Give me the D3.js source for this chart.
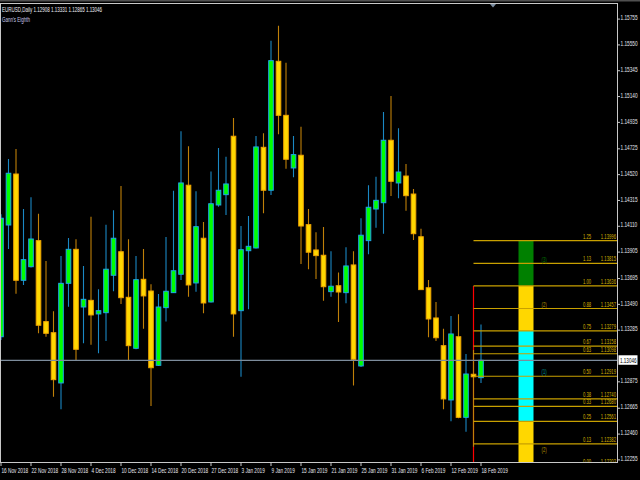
<!DOCTYPE html>
<html>
<head>
<meta charset="utf-8">
<script src="https://cdn.jsdelivr.net/npm/d3@7"></script>
<style>
html,body{margin:0;padding:0;background:#000;}
svg{display:block;}
</style>
</head>
<body>
<svg id="chart" width="640" height="480"></svg>
<script>
// ---------------- DATA ----------------
const symbolTitle = "EURUSD,Daily  1.12908 1.13331 1.12865 1.13046";
const indicatorName = "Gann's Eighth";

const dates = [
 "2018-11-16","2018-11-19","2018-11-20","2018-11-21","2018-11-22","2018-11-23","2018-11-26","2018-11-27","2018-11-28","2018-11-29",
 "2018-11-30","2018-12-03","2018-12-04","2018-12-05","2018-12-06","2018-12-07","2018-12-10","2018-12-11","2018-12-12","2018-12-13",
 "2018-12-14","2018-12-17","2018-12-18","2018-12-19","2018-12-20","2018-12-21","2018-12-24","2018-12-26","2018-12-27","2018-12-28",
 "2018-12-31","2019-01-02","2019-01-03","2019-01-04","2019-01-07","2019-01-08","2019-01-09","2019-01-10","2019-01-11","2019-01-14",
 "2019-01-15","2019-01-16","2019-01-17","2019-01-18","2019-01-21","2019-01-22","2019-01-23","2019-01-24","2019-01-25","2019-01-28",
 "2019-01-29","2019-01-30","2019-01-31","2019-02-01","2019-02-04","2019-02-05","2019-02-06","2019-02-07","2019-02-08","2019-02-11",
 "2019-02-12","2019-02-13","2019-02-14","2019-02-15","2019-02-18"
];
const open = [
 1.13233,1.14120,1.14525,1.13681,1.13789,1.13996,1.13353,1.13265,1.12866,1.13657,
 1.13927,1.13469,1.13522,1.13414,1.13424,1.13721,1.13908,1.13546,1.13141,1.13689,
 1.13596,1.13006,1.13464,1.13583,1.13729,1.14436,1.13660,1.14015,1.13509,1.14279,
 1.14361,1.14825,1.13440,1.13916,1.13938,1.14737,1.14396,1.15420,1.14991,1.14573,
 1.14674,1.14123,1.13922,1.13880,1.13591,1.13638,1.13583,1.13803,1.13001,1.13996,
 1.14247,1.14297,1.14793,1.14454,1.14509,1.14366,1.14027,1.13622,1.13382,1.13162,
 1.12731,1.13233,1.12593,1.12935,1.12908
];
const high = [
 1.14205,1.14644,1.14724,1.14247,1.14340,1.14210,1.13834,1.13435,1.13874,1.14017,
 1.14007,1.13795,1.14186,1.13610,1.14123,1.14237,1.14430,1.14007,1.13874,1.13930,
 1.13649,1.13572,1.14025,1.14393,1.14864,1.14745,1.14388,1.14144,1.14544,1.14732,
 1.14663,1.14970,1.14112,1.14192,1.14827,1.14848,1.15584,1.15703,1.15409,1.14827,
 1.14901,1.14247,1.14062,1.14104,1.13912,1.13742,1.13943,1.13912,1.14174,1.14436,
 1.14504,1.15018,1.15145,1.14888,1.14605,1.14406,1.14091,1.13684,1.13509,1.13297,
 1.13398,1.13411,1.13096,1.13128,1.13331
];
const low = [
 1.13207,1.13930,1.13575,1.13644,1.13783,1.13260,1.13233,1.12757,1.12657,1.13472,
 1.13043,1.13181,1.13170,1.13102,1.13199,1.13594,1.13493,1.13048,1.13133,1.13297,
 1.12683,1.13001,1.13353,1.13580,1.13684,1.13551,1.13591,1.13419,1.13505,1.14266,
 1.14200,1.13233,1.12916,1.13451,1.13934,1.14213,1.14359,1.14840,1.14567,1.14499,
 1.13811,1.13769,1.13692,1.13519,1.13551,1.13350,1.13499,1.12845,1.12993,1.13888,
 1.14099,1.14051,1.14351,1.14332,1.14234,1.14001,1.13604,1.13229,1.13199,1.12657,
 1.12562,1.12585,1.12479,1.12360,1.12865
];
const close = [
 1.14174,1.14531,1.13681,1.13845,1.14009,1.13324,1.13260,1.12892,1.13657,1.13927,
 1.13133,1.13530,1.13406,1.13440,1.13769,1.14015,1.13543,1.13162,1.13686,1.13557,
 1.12987,1.13469,1.13594,1.13757,1.14454,1.13644,1.14107,1.13501,1.14289,1.14396,
 1.14446,1.13414,1.13924,1.13951,1.14740,1.14396,1.15425,1.14991,1.14642,1.14679,
 1.14112,1.13904,1.13877,1.13630,1.13634,1.13588,1.13795,1.13054,1.14039,1.14261,
 1.14316,1.14793,1.14467,1.14541,1.14353,1.14051,1.13607,1.13374,1.13225,1.12739,
 1.13255,1.12593,1.12937,1.12915,1.13046
];
const currentPrice = 1.13046;

// visible price-scale labels (the one under the current-price box is hidden in the original)
const priceTicks = [1.15755,1.15550,1.15345,1.15140,1.14935,1.14725,1.14520,1.14315,1.14110,
 1.13905,1.13695,1.13490,1.13285,1.12875,1.12665,1.12460,1.12255];

// Gann's Eighths levels
const levelRatios = ["1.25","1.13","1.00","0.88","0.75","0.67","0.63","0.50","0.38","0.33","0.25","0.13","0.00"];
const levelPrices = [1.13996,1.13815,1.13636,1.13457,1.13279,1.13158,1.13098,1.12919,1.12740,1.12680,1.12561,1.12382,1.12203];

// colored zone band
const bandTop    = [1.13996,1.13636,1.13279,1.12561];
const bandBottom = [1.13636,1.13279,1.12561,1.12203];
const bandLabels = ["(3)","(2)","(1)","(2)"];
const bandLabelAt = [1.13815,1.13457,1.12919,1.12382];

// ---------------- DRAW ----------------
const svg = d3.select("#chart");
const FONT = "'Liberation Sans', Arial, sans-serif";
const SX = 0.62;

const plotL = 0.5, plotR = 617.5, plotT = 3.5, plotB = 462.5;

const parse = d3.timeParse("%Y-%m-%d");
const fmt = d3.timeFormat("%-d %b %Y");

const x = d3.scaleLinear().domain([0, dates.length - 1]).range([1, 481]);
const y = d3.scaleLinear().domain([1.12255, 1.15755]).range([459.9, 19.1]);

function label(g, px, py, s, o = {}) {
  return g.append("text")
    .attr("transform", `translate(${px},${py}) scale(${o.sx || SX},1)`)
    .attr("font-family", FONT)
    .attr("font-size", o.size || 7.5)
    .attr("fill", o.fill || "#e6e6ee")
    .attr("text-anchor", o.anchor || "start")
    .text(s);
}

svg.append("rect").attr("width", 640).attr("height", 480).attr("fill", "#000");
svg.append("rect").attr("x", 0).attr("y", 0).attr("width", 640).attr("height", 1.5).attr("fill", "#505050");

svg.append("clipPath").attr("id", "plot")
  .append("rect").attr("x", plotL).attr("y", plotT).attr("width", plotR - plotL).attr("height", plotB - plotT);

const plot = svg.append("g").attr("clip-path", "url(#plot)");

// red vertical line of the Gann object
const startIdx = 63;
plot.append("line")
  .attr("x1", x(startIdx)).attr("x2", x(startIdx))
  .attr("y1", y(levelPrices[2])).attr("y2", plotB)
  .attr("stroke", "#ff0000").attr("stroke-width", 1.2);

// candles
const idx = d3.range(dates.length);
const cg = plot.append("g");
idx.forEach(i => {
  const bull = close[i] >= open[i];
  const cx = x(i);
  cg.append("line")
    .attr("x1", cx).attr("x2", cx)
    .attr("y1", y(high[i])).attr("y2", y(low[i]))
    .attr("stroke", bull ? "#1a88c4" : "#c08008").attr("stroke-width", 1.1);
  const top = y(Math.max(open[i], close[i]));
  const bot = y(Math.min(open[i], close[i]));
  cg.append("rect")
    .attr("x", cx - 2.3).attr("width", 4.6)
    .attr("y", top).attr("height", Math.max(1, bot - top))
    .attr("fill", bull ? "#00ff00" : "#ffd700")
    .attr("stroke", bull ? "#1ea6e6" : "#f0a400").attr("stroke-width", 1);
});

// colored band
const bx0 = x(69), bx1 = x(71);
const bandColors = ["#008000", "#ffd700", "#00ffff", "#ffd700"];
bandTop.forEach((t, k) => {
  plot.append("rect")
    .attr("x", bx0).attr("width", bx1 - bx0)
    .attr("y", y(t)).attr("height", y(bandBottom[k]) - y(t))
    .attr("fill", bandColors[k]);
});

// level lines + texts
levelPrices.forEach((p, k) => {
  plot.append("line")
    .attr("x1", x(startIdx)).attr("x2", plotR)
    .attr("y1", y(p)).attr("y2", y(p))
    .attr("stroke", "#c8a000").attr("stroke-width", 1.2);
  label(plot, 583, y(p) - 2, levelRatios[k], { size: 7, sx: 0.6, fill: "#d8b400" });
  label(plot, 616, y(p) - 2, p.toFixed(5), { size: 7, sx: 0.6, fill: "#d8b400", anchor: "end" });
});

const bandLabelColors = ["#007a00", "#b89400", "#009c9c", "#b89400"];
bandLabels.forEach((s, k) => {
  const yy = k === 3 ? y(bandLabelAt[k]) + 8.5 : y(bandLabelAt[k]) - 1.8;
  label(plot, 541.5, yy, s, { size: 7, sx: 0.6, fill: bandLabelColors[k] });
});

// current price line
plot.append("line")
  .attr("x1", plotL).attr("x2", plotR)
  .attr("y1", y(currentPrice)).attr("y2", y(currentPrice))
  .attr("stroke", "#7d8c9c").attr("stroke-width", 1.2);

// frame
svg.append("rect")
  .attr("x", plotL).attr("y", plotT).attr("width", plotR - plotL).attr("height", plotB - plotT)
  .attr("fill", "none").attr("stroke", "#c8c8c8").attr("stroke-width", 1);

// shift marker
svg.append("path").attr("d", "M490,4 L496,4 L493,7.5 Z").attr("fill", "#7a8ca0");

// price axis
priceTicks.forEach(p => {
  svg.append("line").attr("x1", plotR).attr("x2", plotR + 2.5)
    .attr("y1", y(p)).attr("y2", y(p)).attr("stroke", "#c8c8c8");
  label(svg, 620.5, y(p) + 1.2, p.toFixed(5), { size: 7.4, sx: 0.64 });
});
// current price box
svg.append("rect").attr("x", 618.5).attr("y", y(currentPrice) - 5)
  .attr("width", 19).attr("height", 9.5).attr("fill", "#ffffff");
label(svg, 620, y(currentPrice) + 2.6, currentPrice.toFixed(5), { size: 7.4, sx: 0.62, fill: "#000" });

// time axis
idx.filter(i => i % 4 === 0).forEach(i => {
  svg.append("line").attr("x1", x(i)).attr("x2", x(i))
    .attr("y1", plotB).attr("y2", plotB + 3.5).attr("stroke", "#c8c8c8");
  label(svg, x(i) + 0.5, 473, fmt(parse(dates[i])), { size: 7.5, sx: 0.63 });
});

// header texts
label(svg, 2, 11.5, symbolTitle, { size: 7.5, sx: 0.6, fill: "#eeeef4" });
label(svg, 2, 21.5, indicatorName, { size: 7.5, sx: 0.6, fill: "#c8c8e8" });
</script>
</body>
</html>
